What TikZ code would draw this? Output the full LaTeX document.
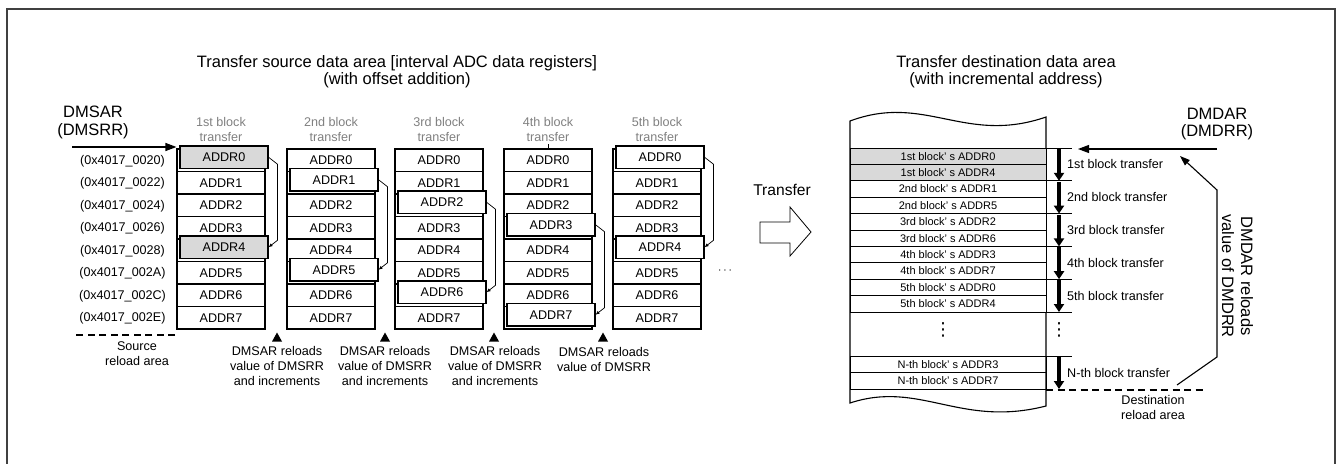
\documentclass[tikz,border=0pt]{standalone}
\usepackage{fontspec}
\setmainfont{Liberation Sans}
\newfontfamily\symbfont{DejaVu Sans}
\usetikzlibrary{arrows.meta,calc}

\definecolor{cellgray}{HTML}{D9D9D9}
\definecolor{headgray}{HTML}{808080}
\definecolor{framegray}{HTML}{404040}

\tikzset{
  cell/.style={draw=black, line width=1.1pt, minimum width=88pt, minimum height=22.5pt, inner sep=0pt, font=\fontsize{12.6}{15}\selectfont},
  drow/.style={draw=black, line width=0.9pt, minimum width=196pt, minimum height=16.4pt, inner sep=0pt, font=\fontsize{11}{13}\selectfont},
  hop/.style={line width=0.7pt, -{Latex[length=4pt,width=3.5pt]}},
  ptr/.style={line width=1.1pt, -{Triangle[length=11pt,width=8pt]}},
  fatarrow/.style={line width=3.2pt, -{Triangle[length=8pt,width=10pt]}},
  dashline/.style={line width=1.2pt, dash pattern=on 7pt off 4.5pt},
  title/.style={align=center, inner sep=0pt, font=\fontsize{16.5}{17.5}\selectfont},
  big/.style={align=center, inner sep=0pt, font=\fontsize{16.5}{17.5}\selectfont},
  note/.style={align=center, inner sep=0pt, font=\fontsize{12.6}{15}\selectfont},
  head/.style={note, text=headgray},
  vd/.style={inner sep=0pt, font=\symbfont\fontsize{18}{20}\selectfont}
}

\begin{document}
\begin{tikzpicture}[x=1pt,y=-1pt]
\useasboundingbox (0,0) rectangle (1340,463);
\draw[framegray, line width=1.5pt] (7,9) rectangle (1335,470);

% headings
\node[title] (srctitle) at (397,71.5) {Transfer source data area [interval ADC data registers]\\(with offset addition)};
\node[title] (dsttitle) at (1006,71.5) {Transfer destination data area\\(with incremental address)};

% source columns (picked rows are left blank, their box comes later)
\foreach \c/\x/\ra in {1/177/0,2/287/1,3/395/2,4/504/3,5/613/0}
  \foreach \r in {0,...,7} {
    \pgfmathtruncatemacro\rr{mod(\r,4)}
    \ifnum\rr=\ra
      \node[cell] (c\c-\r) at (\x+44,149+22.5*\r+11.25) {};
    \else
      \node[cell] (c\c-\r) at (\x+44,149+22.5*\r+11.25) {ADDR\r};
    \fi
  }
\foreach \c/\x/\t in {1/221/1st,2/331/2nd,3/439/3rd,4/548/4th,5/657/5th}
  \node[head] (h\c) at (\x,129.5) {\t\ block\\transfer};
\draw[line width=0.8pt] (c4-0.north) -- ++(0,-4);

% picked registers of each block
\foreach \c/\ra/\rb/\fc in {1/0/4/cellgray,2/1/5/white,3/2/6/white,4/3/7/white,5/0/4/white} {
  \node[cell, fill=\fc] (p\c a) at ($(c\c-\ra)+(3,-3)$) {ADDR\ra};
  \node[cell, fill=\fc] (p\c b) at ($(c\c-\rb)+(3,-3)$) {ADDR\rb};
  \draw[hop] (p\c a.east) -- ++(9,7) -- ($(p\c b.east)+(9,-7)$) -- (p\c b.east);
}

% addresses
\foreach \r/\a in {0/0020,1/0022,2/0024,3/0026,4/0028,5/002A,6/002C,7/002E}
  \node[note] (a\r) at (122.5,149+22.5*\r+11.75) {(0x4017\_\a)};
\node[big] (dmsar) at (93,122.5) {DMSAR\\(DMSRR)};
\coordinate (sarin) at (72,147);
\draw[ptr] (sarin) -- (sarin -| c1-0.west);
\coordinate (srcend) at (175,335);
\draw[dashline] (srcend) -- ++(-103,0);
\node[note] (srcarea) at (137,353.5) {Source\\reload area};

% reload marks
\foreach \m/\x in {1/277,2/385,3/494,4/603}
  \fill (\x,332.5) -- (\x+5,341.5) -- (\x-5,341.5) -- cycle;
\node[note] (rl1) at (277,366) {DMSAR reloads\\value of DMSRR\\and increments};
\node[note] (rl2) at (385,366) {DMSAR reloads\\value of DMSRR\\and increments};
\node[note] (rl3) at (495,366) {DMSAR reloads\\value of DMSRR\\and increments};
\node[note] (rl4) at (604,359.5) {DMSAR reloads\\value of DMSRR};
\node[font=\fontsize{13}{15}\selectfont] (more) at (725,271) {$\cdots$};

% transfer arrow
\node[font=\fontsize{15.6}{18}\selectfont] (xfer) at (782,190) {Transfer};
\draw[line width=0.8pt] (760,222) -- (790,222) -- (790,207) -- (811,232) -- (790,256) -- (790,243) -- (760,243) -- cycle;

% destination area
\draw[line width=1.1pt] (850,121) .. controls (925,93) and (965,145) .. (1046,117) -- (1046,406)
  .. controls (960,428) and (920,380) .. (850,403) -- cycle;
\foreach \i/\fc/\t in {0/cellgray/1st block’ s ADDR0, 1/cellgray/1st block’ s ADDR4,
    2/white/2nd block’ s ADDR1, 3/white/2nd block’ s ADDR5, 4/white/3rd block’ s ADDR2,
    5/white/3rd block’ s ADDR6, 6/white/4th block’ s ADDR3, 7/white/4th block’ s ADDR7,
    8/white/5th block’ s ADDR0, 9/white/5th block’ s ADDR4}
  \node[drow, fill=\fc] (d\i) at (948,148+16.4*\i+8.2) {\t};
\node[drow] (dn0) at (948,364.25) {N-th block’ s ADDR3};
\node[drow] (dn1) at (948,380.75) {N-th block’ s ADDR7};
\node[vd] (vd1) at (943,330) {⋮};
\node[vd] (vd2) at (1059,330) {⋮};

% block transfers
\foreach \b in {0,...,5} {
  \coordinate (b\b) at (1046,148+32.8*\b);
  \draw[line width=1pt] (b\b) -- ++(26,0);
}
\foreach \b/\n/\t in {0/1/1st,1/2/2nd,2/3/3rd,3/4/4th,4/5/5th} {
  \draw[fatarrow] ($(b\b)+(13,1)$) -- ($(b\n)+(13,0)$);
  \node[note, anchor=west] (bl\b) at (1067,164.4+32.8*\b) {\t\ block transfer};
}
\coordinate (bn0) at (1046,356);
\coordinate (bn1) at (1046,389);
\draw[line width=1pt] (bn0) -- ++(26,0);
\draw[fatarrow] ($(bn0)+(13,1)$) -- ($(bn1)+(13,0)$);
\node[note, anchor=west] (bln) at (1067,372.5) {N-th block transfer};
\coordinate (dstend) at (1206,390);
\draw[dashline] (bn1 |- dstend) -- (dstend);
\node[note] (dstarea) at (1153,407.5) {Destination\\reload area};

% destination pointer and reload
\node[big] (dmdar) at (1217,124) {DMDAR\\(DMDRR)};
\coordinate (darin) at (1217,149);
\coordinate (dartip) at (1078,149);
\draw[ptr] (darin) -- (dartip);
\coordinate (rstart) at (1177,385);
\draw[line width=1.1pt, -{Triangle[length=10pt,width=7pt]}] (rstart) -- (1217,357) -- (1217,190) -- (1180,156);
\node[big, rotate=-90, font=\fontsize{16.5}{19}\selectfont] (dmdarnote) at (1237.5,276) {DMDAR reloads\\value of DMDRR};
\end{tikzpicture}
\end{document}
